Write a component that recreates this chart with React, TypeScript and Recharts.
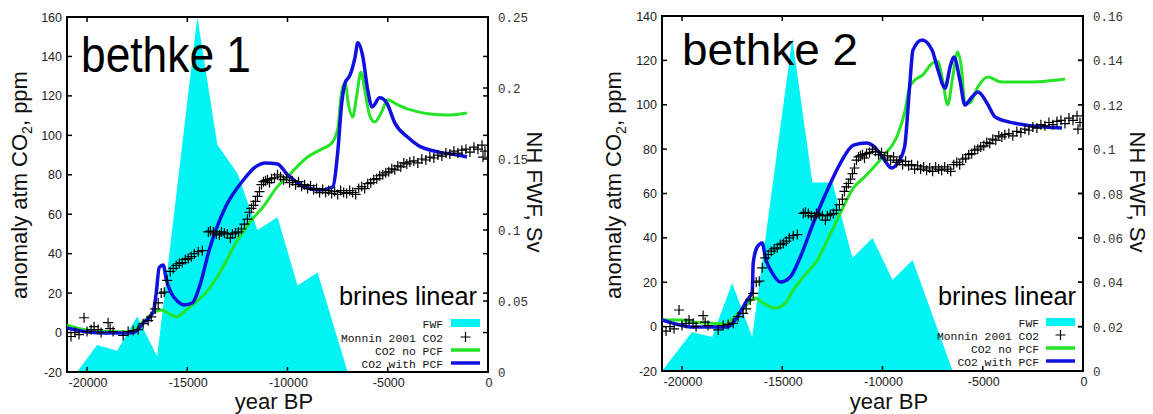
import React from "react";
import { Area, ComposedChart, Line, ReferenceArea, Scatter, XAxis, YAxis } from "recharts";

// NH freshwater forcing (Sv)
const fwf1Years = [-20500, -19500, -18500, -17500, -16500, -14500, -13500, -12500, -11500, -10500, -9500, -8500, -7000];
const fwf1Sv = [0, 0.019, 0.015, 0.039, 0.011, 0.25, 0.16, 0.14, 0.1, 0.109, 0.061, 0.07, 0];
const fwf2Years = [-21000, -19500, -18500, -17500, -16500, -14500, -13500, -12500, -11500, -10500, -9500, -8500, -6500];
const fwf2Sv = [0, 0.0176, 0.0153, 0.0397, 0.0153, 0.15, 0.085, 0.085, 0.051, 0.06, 0.041, 0.05, 0];

// Monnin 2001 CO2 anomaly (ppm)
const monninYears = [
  -20800, -20600, -20400, -20150, -20000, -19800, -19650, -19450, -19300, -18950, -18850, -18700, -18200, -17950,
  -17700, -17450, -17200, -16950, -16800, -16600, -16450, -16300, -16150, -16000, -15850, -15700, -15550, -15400,
  -15250, -15100, -14950, -14800, -14650, -14450, -14250, -13950, -13850, -13700, -13550, -13400, -13300, -13150,
  -13000, -12850, -12750, -12600, -12450, -12300, -12150, -12000, -11900, -11800, -11700, -11600, -11500, -11400,
  -11300, -11200, -11100, -11000, -10900, -10800, -10650, -10500, -10350, -10200, -10050, -9900, -9750, -9600,
  -9450, -9300, -9150, -9000, -8850, -8700, -8550, -8400, -8250, -8100, -7950, -7800, -7650, -7500, -7350, -7200,
  -7050, -6900, -6750, -6600, -6450, -6300, -6150, -6000, -5850, -5700, -5550, -5400, -5250, -5100, -4950, -4800,
  -4650, -4500, -4350, -4200, -4050, -3900, -3700, -3500, -3300, -3100, -2900, -2700, -2500, -2300, -2100, -1900,
  -1700, -1500, -1300, -1100, -900, -700, -500, -300, -250, -150,
];
const monninCo2 = [
  -2, 0, -1, 7.5, 0.5, 1.5, 3, 1.5, 0, 5, 2, 0.5, -1.5, 0.5,
  1, 1.5, 4.5, 6, 8, 12, 15, 20, 20.5, 26.5, 31, 32.5, 34, 35,
  35.5, 37, 37.5, 38.5, 40, 41, 41.5, 51, 51.5, 51, 50, 49.5, 51, 50.5,
  50, 48, 50, 50.5, 51, 52.5, 55, 57.5, 61, 63, 64.5, 66.5, 69, 71.5,
  75, 76.5, 77, 77.5, 76, 78, 78.5, 80, 79, 77.5, 78.5, 76, 77, 75,
  76.5, 74, 75, 73, 74.5, 72.5, 73, 71, 72.5, 71, 72, 70.5, 71.5, 70, 72, 71,
  70.5, 72, 71, 70, 73, 74, 73, 75.5, 76, 77.5, 78, 79.5, 80, 81, 81.5, 83,
  82.5, 84.5, 84, 86, 85.5, 86.5, 87, 86, 88, 87.5, 89, 88.5, 90, 89.5, 91, 90.5,
  92, 91, 92.5, 93, 91.5, 94, 93, 95, 89, 92,
];

// bethke 1 model CO2 (ppm)
const noPcf1Years = [
  -21000, -20000, -19000, -18000, -17500, -17200, -16700, -16300, -15900, -15550, -15000, -14500, -14000, -13300,
  -12600, -12000, -11200, -10500, -10000, -9000, -8300, -7800, -7500, -7300, -7130, -6950, -6750, -6550, -6340,
  -6100, -5900, -5650, -5300, -5000, -4600, -3900, -3000, -1900, -1050,
];
const noPcf1Co2 = [
  3.8, 1.3, 0.5, 0.3, 2.5, 5.4, 10, 11.4, 9.5, 7.9, 12, 16, 21, 31.7,
  45, 54.5, 64, 74, 79, 89, 93, 96, 103, 122, 126.5, 115, 109.3, 120, 132,
  120, 110, 106.8, 112, 118, 116, 113, 111, 110.3, 111.3,
];
const withPcf1Years = [
  -21000, -20000, -19000, -18000, -17700, -17200, -16700, -16550, -16400, -16200, -16050, -15800, -15500, -15150,
  -14750, -14400, -13900, -13100, -12200, -11600, -11100, -10500, -10000, -9500, -9200, -8400, -7750, -7500, -7300,
  -7130, -6880, -6630, -6490, -6240, -6000, -5780, -5400, -5050, -4650, -4000, -3500, -2500, -1500, -1050,
];
const withPcf1Co2 = [
  2.3, 0.3, -0.2, -0.2, 0, 4.8, 10.4, 20, 33, 34.3, 27, 20, 16, 14,
  15, 23, 42, 63.5, 77.4, 84, 86, 85.5, 80, 76, 74, 72.3, 73.8, 91, 116,
  126.5, 130.6, 139.7, 147, 139.7, 123, 114.4, 119, 116.4, 106.3, 99, 95, 91.6, 90, 89,
];

// bethke 2 model CO2 (ppm)
const noPcf2Years = [
  -21000, -20000, -19500, -18600, -17800, -17300, -16800, -16350, -15950, -15350, -14850, -14450, -13950, -13250,
  -12750, -12100, -11450, -10900, -10000, -9250, -8900, -8650, -8400, -8000, -7500, -7250, -7000, -6750, -6500,
  -6250, -6050, -5900, -5650, -5250, -4750, -4050, -3000, -2000, -900,
];
const noPcf2Co2 = [
  3, 3, 2.1, 1.6, 1.2, 5, 9.7, 12.9, 10.6, 8.4, 10.6, 16.5, 22.4, 30,
  39, 51.2, 62.5, 67.4, 76.5, 86.4, 96.3, 108, 111, 113.4, 118.8, 119.5, 111, 100, 112.5,
  123.8, 115.6, 101.2, 100.8, 108, 112.5, 110.2, 110.2, 110.5, 111.6,
];
const withPcf2Years = [
  -21000, -20100, -19450, -17750, -17250, -16750, -16500, -16450, -16250, -16000, -15850, -15500, -15100, -14600,
  -14100, -13450, -12750, -12100, -11450, -10800, -10400, -9900, -9550, -9250, -8900, -8650, -8480, -8030, -7530,
  -7230, -6880, -6630, -6440, -6140, -5890, -5540, -5240, -4790, -4390, -3890, -2890, -1900, -1050,
];
const withPcf2Co2 = [
  3, 0.7, -0.2, -0.2, 4.3, 12, 15.6, 28.7, 35.9, 37.7, 31.4, 24.2, 20.1, 22.4,
  31.4, 46.7, 61.6, 73.7, 81.8, 82.8, 81, 75, 71.5, 73.7, 81, 108, 124.7, 129.2, 124.7,
  115.6, 107.5, 117, 121.5, 111.1, 99.9, 103.5, 105.7, 100.8, 94.5, 92.7, 90.9, 90, 89.5,
];

const xTicks = [-20000, -15000, -10000, -5000, 0];
const co2Ticks1 = [-20, 0, 20, 40, 60, 80, 100, 120, 140, 160];
const co2Ticks2 = [-20, 0, 20, 40, 60, 80, 100, 120, 140];
const fwfTicks1 = [0, 0.05, 0.1, 0.15, 0.2, 0.25];
const fwfTicks2 = [0, 0.02, 0.04, 0.06, 0.08, 0.1, 0.12, 0.14, 0.16];
const legendLabels = ["FWF", "Monnin 2001 CO2", "CO2 no PCF", "CO2 with PCF"];

const SANS = "'Liberation Sans', Arial, sans-serif";
const MONO = "'Liberation Mono', 'DejaVu Sans Mono', monospace";
const CYAN = "#00f4f4";
const GREEN = "#25e325";
const BLUE = "#1010e0";
const H = 414;

const zip = (xs: number[], ys: number[]) => xs.map((x, i) => ({ x, y: ys[i] }));

const Plus = (p: any) => (
  <path d={`M${p.cx - 5},${p.cy}h10M${p.cx},${p.cy - 5}v10`} stroke="#000" strokeWidth={1.2} fill="none" />
);

type PanelCfg = {
  left: number;
  width: number;
  top: number;
  xH: number;
  leftW: number;
  rightW: number;
  co2Max: number;
  co2Ticks: number[];
  fwfMax: number;
  fwfTicks: number[];
  fwf: { x: number; y: number }[];
  noPcf: { x: number; y: number }[];
  withPcf: { x: number; y: number }[];
};

const monninData = zip(monninYears, monninCo2);

function Panel({ p }: { p: PanelCfg }) {
  const plotL = p.leftW;
  const plotR = p.width - p.rightW;
  const plotT = p.top;
  const plotB = H - p.xH;

  const xTick = ({ x, payload }: any) => (
    <g>
      <line x1={x} x2={x} y1={plotB} y2={plotB - 5} stroke="#000" strokeWidth={1.5} />
      <line x1={x} x2={x} y1={plotT} y2={plotT + 5} stroke="#000" strokeWidth={1.5} />
      <text x={x + 1} y={plotB + 15} textAnchor="middle" fontSize={12.5} fontFamily={SANS} fill="#222">
        {payload.value}
      </text>
    </g>
  );
  const lTick = ({ y, payload }: any) => (
    <g>
      <line x1={plotL} x2={plotL + 5} y1={y} y2={y} stroke="#000" strokeWidth={1.5} />
      <line x1={plotR} x2={plotR - 5} y1={y} y2={y} stroke="#000" strokeWidth={1.5} />
      <text x={plotL - 5} y={y + 4.5} textAnchor="end" fontSize={12.5} fontFamily={SANS} fill="#222">
        {payload.value}
      </text>
    </g>
  );
  const rTick = ({ y, payload }: any) => (
    <g>
      <line x1={plotR} x2={plotR - 5} y1={y} y2={y} stroke="#000" strokeWidth={1.5} />
      <text x={plotR + 10} y={y + 5} textAnchor="start" fontSize={12.5} fontFamily={MONO} fill="#333">
        {String(payload.value)}
      </text>
    </g>
  );

  return (
    <div style={{ position: "absolute", left: p.left, top: 0 }}>
      <ComposedChart width={p.width} height={H} margin={{ top: p.top, right: 0, bottom: 0, left: 0 }}>
        <XAxis
          dataKey="x"
          type="number"
          domain={[-21000, 0]}
          ticks={xTicks}
          allowDataOverflow
          height={p.xH}
          axisLine={false}
          tickLine={false}
          tick={xTick}
          interval={0}
        />
        <YAxis
          yAxisId="l"
          orientation="left"
          type="number"
          domain={[-20, p.co2Max]}
          ticks={p.co2Ticks}
          allowDataOverflow
          width={p.leftW}
          axisLine={false}
          tickLine={false}
          tick={lTick}
          interval={0}
        />
        <YAxis
          yAxisId="r"
          orientation="right"
          type="number"
          domain={[0, p.fwfMax]}
          ticks={p.fwfTicks}
          allowDataOverflow
          width={p.rightW}
          axisLine={false}
          tickLine={false}
          tick={rTick}
          interval={0}
        />
        <Area
          yAxisId="r"
          data={p.fwf}
          dataKey="y"
          type="linear"
          stroke="none"
          fill={CYAN}
          fillOpacity={1}
          isAnimationActive={false}
        />
        <Scatter yAxisId="l" data={monninData} dataKey="y" shape={Plus} isAnimationActive={false} />
        <Line
          yAxisId="l"
          data={p.noPcf}
          dataKey="y"
          type="monotone"
          stroke={GREEN}
          strokeWidth={3}
          dot={false}
          activeDot={false}
          isAnimationActive={false}
        />
        <Line
          yAxisId="l"
          data={p.withPcf}
          dataKey="y"
          type="monotone"
          stroke={BLUE}
          strokeWidth={3.5}
          dot={false}
          activeDot={false}
          isAnimationActive={false}
        />
        <ReferenceArea
          yAxisId="l"
          x1={-21000}
          x2={0}
          y1={-20}
          y2={p.co2Max}
          fill="none"
          stroke="#000"
          strokeWidth={2}
          ifOverflow="visible"
        />
      </ComposedChart>
    </div>
  );
}

type Notes = {
  title: string;
  titleX: number;
  titleY: number;
  titleSize: number;
  titleLen: number;
  yLabX: number;
  y2LabX: number;
  xLabX: number;
  brinesX: number;
  legRight: number;
  swX: number;
  rows: number[];
};

function Annotations({ n }: { n: Notes }) {
  return (
    <g>
      <text x={n.titleX} y={n.titleY} fontSize={n.titleSize} fontFamily={SANS} textLength={n.titleLen} lengthAdjust="spacingAndGlyphs">
        {n.title}
      </text>
      <text x={n.brinesX} y={305} fontSize={25} fontFamily={SANS} textLength={138} lengthAdjust="spacingAndGlyphs">
        brines linear
      </text>
      {legendLabels.map((t, i) => (
        <text
          key={t}
          x={n.legRight}
          y={n.rows[i] + 4.5}
          fontFamily={MONO}
          fontSize={11.5}
          fill="#111"
          textAnchor="end"
          textLength={t.length * 6.8}
          lengthAdjust="spacingAndGlyphs"
        >
          {t}
        </text>
      ))}
      <rect x={n.swX} y={n.rows[0] - 4} width={29} height={8} fill={CYAN} />
      <path d={`M${n.swX + 9.5},${n.rows[1]}h10M${n.swX + 14.5},${n.rows[1] - 5}v10`} stroke="#000" strokeWidth={1.2} />
      <line x1={n.swX} x2={n.swX + 29} y1={n.rows[2]} y2={n.rows[2]} stroke={GREEN} strokeWidth={3.5} />
      <line x1={n.swX} x2={n.swX + 29} y1={n.rows[3]} y2={n.rows[3]} stroke={BLUE} strokeWidth={3.5} />
      <text transform={`translate(${n.yLabX},185) rotate(-90)`} textAnchor="middle" fontSize={22} fontFamily={SANS} fill="#111">
        anomaly atm CO
        <tspan fontSize={14} dy={5}>2</tspan>
        <tspan dy={-5}>, ppm</tspan>
      </text>
      <text transform={`translate(${n.y2LabX},192) rotate(90)`} textAnchor="middle" fontSize={22} fontFamily={SANS} fill="#111">
        NH FWF, Sv
      </text>
      <text x={n.xLabX} y={409} textAnchor="middle" fontSize={22} fontFamily={SANS} fill="#111">
        year BP
      </text>
    </g>
  );
}

const panel1: PanelCfg = {
  left: 0,
  width: 560,
  top: 17,
  xH: 42,
  leftW: 67,
  rightW: 72,
  co2Max: 160,
  co2Ticks: co2Ticks1,
  fwfMax: 0.25,
  fwfTicks: fwfTicks1,
  fwf: zip(fwf1Years, fwf1Sv),
  noPcf: zip(noPcf1Years, noPcf1Co2),
  withPcf: zip(withPcf1Years, withPcf1Co2),
};

const panel2: PanelCfg = {
  left: 580,
  width: 573,
  top: 16,
  xH: 43,
  leftW: 82,
  rightW: 70,
  co2Max: 140,
  co2Ticks: co2Ticks2,
  fwfMax: 0.16,
  fwfTicks: fwfTicks2,
  fwf: zip(fwf2Years, fwf2Sv),
  noPcf: zip(noPcf2Years, noPcf2Co2),
  withPcf: zip(withPcf2Years, withPcf2Co2),
};

const notes1: Notes = {
  title: "bethke 1",
  titleX: 81,
  titleY: 72,
  titleSize: 50,
  titleLen: 170,
  yLabX: 27,
  y2LabX: 527,
  xLabX: 274,
  brinesX: 339,
  legRight: 443,
  swX: 451,
  rows: [323, 337, 350, 363],
};

const notes2: Notes = {
  title: "bethke 2",
  titleX: 682,
  titleY: 65,
  titleSize: 45,
  titleLen: 176,
  yLabX: 621,
  y2LabX: 1130,
  xLabX: 889,
  brinesX: 938,
  legRight: 1039,
  swX: 1046,
  rows: [322, 335, 348, 361],
};

export default function App() {
  return (
    <div style={{ position: "absolute", left: 0, top: 0, width: 1153, height: H, background: "#fff", overflow: "hidden" }}>
      <Panel p={panel1} />
      <Panel p={panel2} />
      <svg width={1153} height={H} style={{ position: "absolute", left: 0, top: 0, pointerEvents: "none" }}>
        <Annotations n={notes1} />
        <Annotations n={notes2} />
      </svg>
    </div>
  );
}
